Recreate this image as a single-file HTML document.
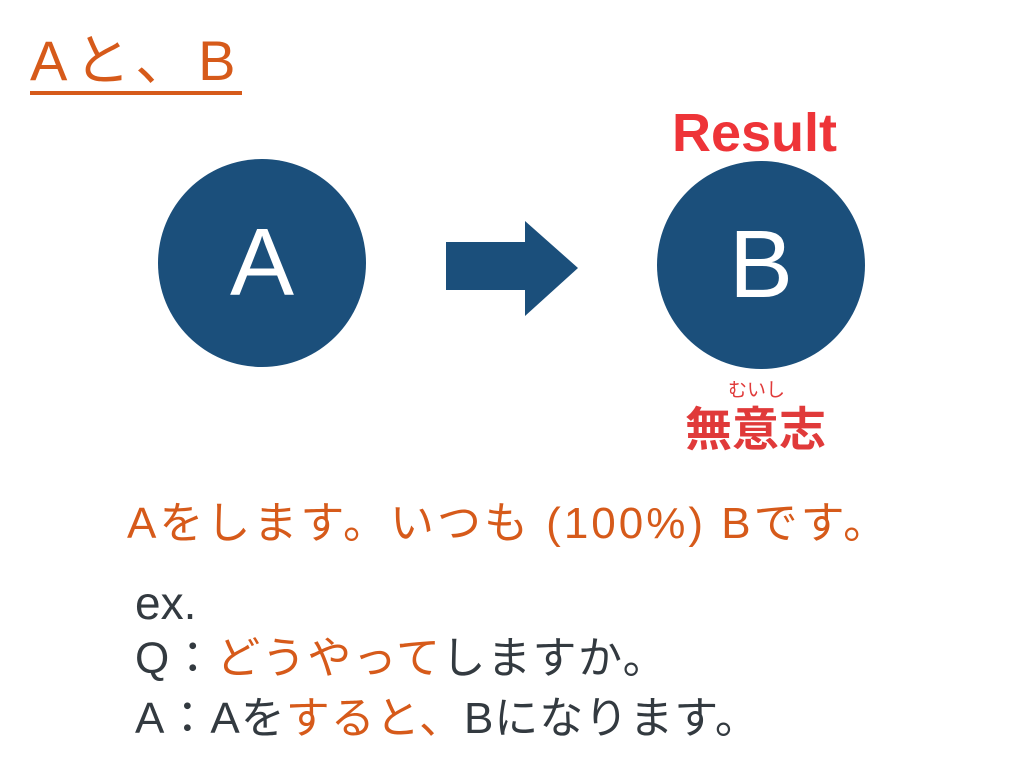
<!DOCTYPE html>
<html><head><meta charset="utf-8"><style>
body{margin:0;width:1024px;height:768px;background:#fff;position:relative;overflow:hidden;font-family:"Liberation Sans","Noto Sans CJK JP",sans-serif}
.t{position:absolute;white-space:nowrap;line-height:1}
.o{color:#d65a1a}
.d{color:#333a40}
.c{position:absolute;border-radius:50%;background:#1b4f7b;width:208px;height:208px;color:#fff;font-size:96px;display:flex;align-items:center;justify-content:center}
</style></head><body>
<div class="t o" style="left:30px;top:33px;font-size:56px;letter-spacing:7px">Aと、B</div>
<div style="position:absolute;left:30px;top:91px;width:212px;height:4px;background:#d65a1a"></div>
<div class="c" style="left:158px;top:159px">A</div>
<div class="c" style="left:657px;top:161px">B</div>
<svg style="position:absolute;left:0;top:0" width="1024" height="768"><polygon points="446,242 525,242 525,221 578,268 525,316 525,290 446,290" fill="#1b4f7b"/></svg>
<div class="t" style="left:672px;top:106px;font-size:54px;font-weight:bold;color:#ee3438">Result</div>
<div class="t" style="left:728px;top:381px;font-size:19px;color:#e03a3a">むいし</div>
<div class="t" style="left:685px;top:406px;font-size:47px;font-weight:bold;color:#e03a3a">無意志</div>
<div class="t o" style="left:127px;top:502px;font-size:44px;letter-spacing:3px">Aをします。いつも (100%) Bです。</div>
<div class="t d" style="left:135px;top:580px;font-size:46px">ex.</div>
<div class="t d" style="left:135px;top:637px;font-size:44px;letter-spacing:1.5px">Q：<span class="o">どうやって</span>しますか。</div>
<div class="t d" style="left:135px;top:697px;font-size:44px;letter-spacing:1px">A：Aを<span class="o">すると、</span>Bになります。</div>
</body></html>
